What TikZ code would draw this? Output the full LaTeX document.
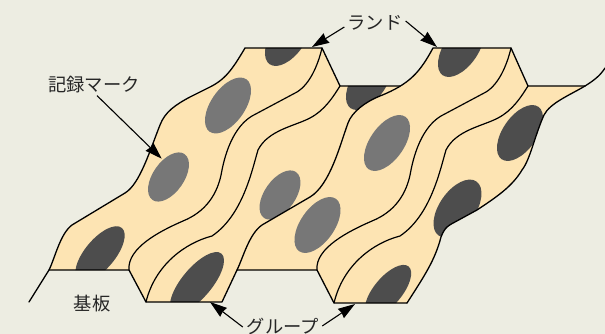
\documentclass[tikz,border=0pt]{standalone}
\usepackage{fontspec}
\setmainfont{Noto Sans CJK JP}
\usetikzlibrary{arrows.meta}
\definecolor{bgc}{RGB}{237,237,226}
\definecolor{beige}{RGB}{253,228,179}
\definecolor{darkmark}{RGB}{77,77,77}
\definecolor{lightmark}{RGB}{119,119,119}
\tikzset{
  lab/.style={inner sep=0pt,font=\fontsize{18.3}{18.3}\selectfont,text=black!85},
  outl/.style={draw=black,line width=1.3pt,line join=round,line cap=round},
  lead/.style={draw=black,line width=1.1pt,-{Stealth[length=17pt,width=11pt,inset=1pt]}},
  dk/.style={fill=darkmark,draw=none},
  lt/.style={fill=lightmark,draw=none},
}
\newcommand{\mk}[6]{\path[#1,rotate around={#6:(#2,#3)}] (#2,#3) ellipse [x radius=#4,y radius=#5];}
\def\landA{(49,270) .. controls (55,258) and (60,234) .. (72,225) -- (125,193) .. controls (140,184) and (150,150) .. (160,125) .. controls (165,112) and (175,105) .. (190,97) -- (208,88) .. controls (225,80) and (232,70) .. (245,48)}
\def\landB{(237,270) .. controls (243,258) and (249,234) .. (262,225) -- (310,197) .. controls (330,185) and (340,145) .. (348,123) .. controls (352,112) and (365,102) .. (380,96) .. controls (410,84) and (420,72) .. (433,48)}
\def\rightE{(585,86) .. controls (570,95) and (550,103) .. (544,115) .. controls (535,135) and (530,160) .. (522,170) .. controls (512,187) and (495,198) .. (477,210) -- (455,222) .. controls (445,227) and (444,230) .. (441,237) .. controls (435,260) and (425,275) .. (407,303)}
\def\grA{(322,48) .. controls (318,65) and (310,84) .. (297,92) -- (252,116) .. controls (237,125) and (227,145) .. (222,170) .. controls (218,195) and (205,212) .. (183,221) .. controls (160,231) and (127,248) .. (129,270)}
\def\grB{(340,86) .. controls (333,97) and (325,110) .. (310,118) .. controls (295,126) and (268,130) .. (258,150) .. controls (252,170) and (243,215) .. (212,236) .. controls (185,243) and (155,265) .. (146,302)}
\def\grC{(511,48) .. controls (507,65) and (499,84) .. (486,92) -- (441,116) .. controls (426,125) and (416,145) .. (411,170) .. controls (407,195) and (394,212) .. (372,221) .. controls (349,231) and (315,248) .. (317,270)}
\def\grD{(528,86) .. controls (521,97) and (513,110) .. (498,118) .. controls (483,126) and (456,130) .. (446,150) .. controls (440,170) and (431,215) .. (400,236) .. controls (373,243) and (343,265) .. (334,303)}
\def\whole{\landA -- (322,48) -- (340,86) -- (400,86) .. controls (415,78) and (422,68) .. (433,48) -- (511,48) -- (528,86) -- \rightE -- (334,303) -- (317,270) -- (237,270) -- (222,302) -- (146,302) -- (129,270) -- cycle}
\begin{document}
\begin{tikzpicture}[x=1pt,y=-1pt]
\useasboundingbox (0,0) rectangle (605,334);
\fill[bgc] (0,0) rectangle (605,334);
\fill[beige] \whole;
% marks on the lower floors
\begin{scope}
  \clip \whole;
  \mk{dk}{197}{282.7}{38}{15}{50}
  \mk{lt}{280}{195}{28}{15.5}{55}
  \mk{dk}{369}{82}{32}{17}{55}
  \mk{dk}{388}{291}{32}{14}{50}
  \mk{dk}{457.5}{208.5}{33}{18}{55}
  \mk{dk}{520}{133}{32}{17}{55}
\end{scope}
% upper land that hides part of the floor
\fill[beige] \landB -- \grC -- cycle;
\begin{scope}
  \clip \whole;
  \mk{dk}{100}{254}{34}{15}{50}
  \mk{lt}{168.5}{177}{28}{15.5}{55}
  \mk{lt}{228}{105.5}{32}{17}{55}
  \mk{dk}{288}{38}{32}{17}{55}
  \mk{lt}{317.5}{225}{32}{17}{55}
  \mk{lt}{387}{143}{32}{17}{55}
  \mk{dk}{461}{49}{32}{17}{55}
\end{scope}
% outlines
\draw[outl] (29,302) -- \landA -- (322,48) -- (340,86) -- (400,86);
\draw[outl] (49,270) -- (129,270) -- (146,302) -- (222,302) -- (237,270) -- (317,270) -- (334,303) -- (407,303);
\draw[outl] \landB -- (511,48) -- (528,86) -- (585,86);
\draw[outl] \rightE;
\draw[outl] (585,86) .. controls (593,81) and (600,76) .. (605,68);
\draw[outl,line width=1.2pt] \grA;
\draw[outl,line width=1.2pt] \grB;
\draw[outl,line width=1.2pt] \grC;
\draw[outl,line width=1.2pt] \grD;
% labels
\node[lab] (mark) at (94,85) {記録マーク};
\node[lab] (land) at (375,23) {ランド};
\node[lab] (groove) at (283,326) {グループ};
\node[lab] (base) at (92,304) {基板};
\coordinate (tipmark) at (161.7,158.7);
\coordinate (tipl) at (312,47);
\coordinate (tipr) at (437,47);
\coordinate (tipgl) at (210,302);
\coordinate (tipgr) at (355,304);
\draw[lead] ([xshift=3pt,yshift=-2pt]mark.south) -- (tipmark);
\draw[lead] ([xshift=-3pt,yshift=-4pt]land.west) -- (tipl);
\draw[lead] ([xshift=3pt,yshift=2pt]land.east) -- (tipr);
\draw[lead] ([xshift=-4pt,yshift=-1pt]groove.west) -- (tipgl);
\draw[lead] ([xshift=3pt,yshift=0pt]groove.east) -- (tipgr);
\end{tikzpicture}
\end{document}
